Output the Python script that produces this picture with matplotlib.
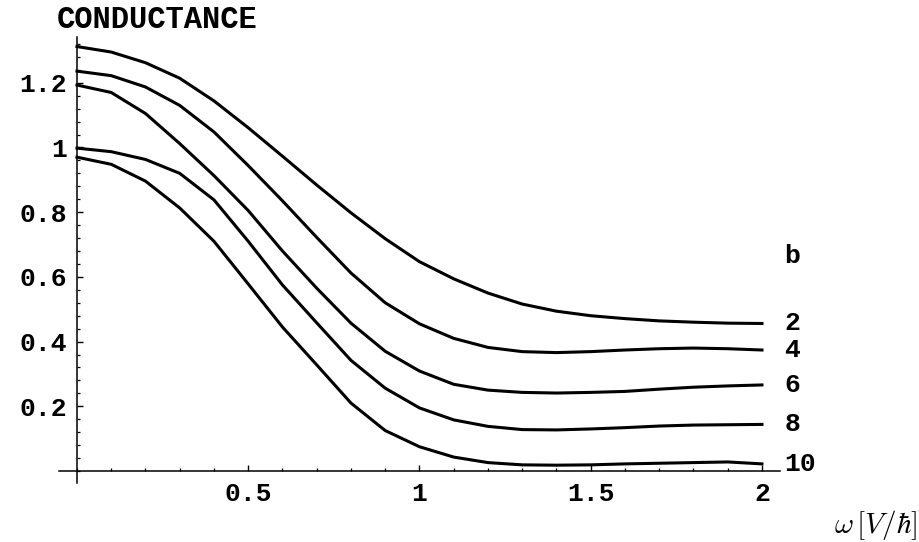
import numpy as np
import matplotlib
matplotlib.use("Agg")
import matplotlib.pyplot as plt
from matplotlib.ticker import MultipleLocator, FixedLocator

# conductance vs omega for several b
omega = [0.0, 0.1, 0.2, 0.3, 0.4, 0.5, 0.6, 0.7, 0.8, 0.9, 1.0,
         1.1, 1.2, 1.3, 1.4, 1.5, 1.6, 1.7, 1.8, 1.9, 2.0]
g_b2 = [1.312, 1.295, 1.262, 1.214, 1.144, 1.061, 0.973, 0.884, 0.798, 0.718, 0.647,
        0.594, 0.550, 0.516, 0.494, 0.480, 0.471, 0.464, 0.460, 0.457, 0.456]
g_b4 = [1.236, 1.222, 1.187, 1.130, 1.048, 0.944, 0.835, 0.722, 0.612, 0.520, 0.455,
        0.410, 0.382, 0.369, 0.366, 0.369, 0.374, 0.378, 0.380, 0.378, 0.374]
g_b6 = [1.193, 1.170, 1.105, 1.012, 0.913, 0.805, 0.680, 0.565, 0.457, 0.370, 0.309,
        0.268, 0.250, 0.243, 0.241, 0.243, 0.246, 0.253, 0.259, 0.263, 0.266]
g_b8 = [0.998, 0.987, 0.963, 0.920, 0.838, 0.710, 0.575, 0.458, 0.342, 0.256, 0.195,
        0.158, 0.138, 0.128, 0.127, 0.130, 0.134, 0.139, 0.142, 0.143, 0.144]
g_b10 = [0.970, 0.948, 0.896, 0.813, 0.710, 0.578, 0.445, 0.328, 0.210, 0.125, 0.075,
         0.043, 0.026, 0.019, 0.018, 0.019, 0.022, 0.024, 0.026, 0.028, 0.022]

series = [("2", g_b2), ("4", g_b4), ("6", g_b6), ("8", g_b8), ("10", g_b10)]
xticks = [0.5, 1.0, 1.5, 2.0]
xtick_labels = ["0.5", "1", "1.5", "2"]
yticks = [0.2, 0.4, 0.6, 0.8, 1.0, 1.2]
ytick_labels = ["0.2", "0.4", "0.6", "0.8", "1", "1.2"]

mono = "Liberation Mono"
plt.rcParams["mathtext.fontset"] = "cm"

fig = plt.figure(figsize=(9.2, 5.42), dpi=100)
ax = fig.add_axes([0.0641, 0.1089, 0.7837, 0.8229])

for name, vals in series:
    ax.plot(omega, vals, color="black", linewidth=2.2, solid_joinstyle="round")
    ax.text(2.065, vals[-1], name, fontfamily=mono, fontweight="bold",
            fontsize=19, va="center", ha="left")

ax.text(2.065, 0.665, "b", fontfamily=mono, fontweight="bold",
        fontsize=19, va="center", ha="left")

ax.set_xlim(-0.0526, 2.0526)
ax.set_ylim(-0.037, 1.3416)

# Mathematica style axes crossing at the origin
for side in ["top", "right"]:
    ax.spines[side].set_visible(False)
ax.spines["left"].set_position(("data", 0))
ax.spines["bottom"].set_position(("data", 0))
ax.spines["left"].set_linewidth(1.1)
ax.spines["bottom"].set_linewidth(1.1)

ax.xaxis.set_major_locator(FixedLocator(xticks))
ax.yaxis.set_major_locator(FixedLocator(yticks))
ax.xaxis.set_minor_locator(MultipleLocator(0.1))
ax.yaxis.set_minor_locator(MultipleLocator(0.04))
ax.set_xticklabels(xtick_labels)
ax.set_yticklabels(ytick_labels)
ax.tick_params(which="major", direction="in", length=4, width=1)
ax.tick_params(which="minor", direction="in", length=2.5, width=0.9)
ax.tick_params(axis="y", pad=7)
ax.tick_params(axis="x", pad=8)
for lab in ax.get_xticklabels() + ax.get_yticklabels():
    lab.set_fontfamily(mono)
    lab.set_fontweight("bold")
    lab.set_fontsize(19)

fig.text(57 / 920, 1 - 20 / 542, "CONDUCTANCE", fontfamily=mono, fontweight="bold",
         fontsize=22, va="center", ha="left")

fig.text(917 / 920, 1 - 525 / 542, r"$\omega\,[V/\hbar]$", fontsize=21,
         va="center", ha="right")

fig.savefig("out.png", dpi=100, facecolor="white")
